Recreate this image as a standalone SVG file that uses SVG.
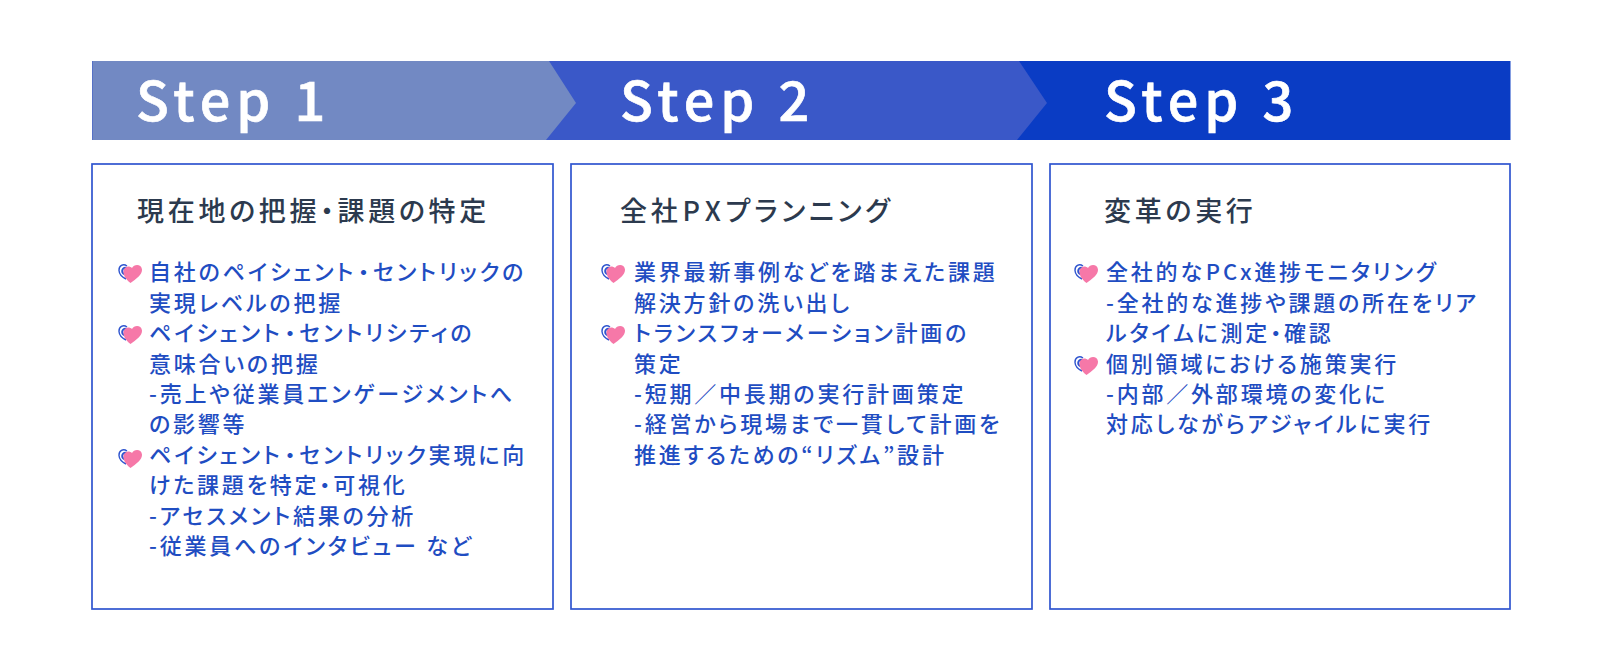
<svg xmlns="http://www.w3.org/2000/svg" width="1600" height="667" viewBox="0 0 1600 667">
<style>
text{font-family:"Noto Sans CJK JP","Noto Sans",sans-serif}
.s{font-size:54px;font-weight:500;fill:#fff;stroke:#fff;stroke-width:.7px;letter-spacing:6px}
.t{font-size:27px;font-weight:500;fill:#2c3a4e;letter-spacing:3.700px;font-feature-settings:"palt"}
.b{font-size:22px;font-weight:500;fill:#1f4dc2;letter-spacing:2.800px;font-feature-settings:"palt"}
.box{fill:#fff;stroke:#2f55cf;stroke-width:1.700}
</style>
<defs>
<g id="heart">
<path d="M9 4C5 1 0.800 4 1 8.500C1.200 12 4 15 8 17" fill="none" stroke="#2f55cf" stroke-width="1.400"/>
<circle cx="7.500" cy="9" r="3.300" fill="none" stroke="#2f55cf" stroke-width="2"/>
<path d="M12.500 21C8 17.500 5 13.500 5.500 9C6 4.500 11 3 14 6C16 1.800 23.500 1.800 24 7.500C24.400 12.500 18 17 12.500 21Z" fill="#f678a8"/>
</g>
</defs>
<rect width="1600" height="667" fill="#fff"/>
<g id="step3"><rect x="92.500" y="61" width="1418" height="79" fill="#0a3cc4"/><text class="s" x="1104" y="121">Step 3</text></g>
<g id="step2"><polygon points="92,61 1019,61 1047,103 1017,140 92,140" fill="#3a58c8"/><text class="s" x="620" y="121">Step 2</text></g>
<g id="step1"><polygon points="92.500,61 549,61 576,103 546,140 92.500,140" fill="#7289c3"/><text class="s" x="136" y="121">Step 1</text></g>
<g id="box1"><rect class="box" x="92" y="164" width="461" height="445"/>
<text class="t" x="137" y="221">現在地の把握・課題の特定</text>
<use href="#heart" x="118" y="262"/><use href="#heart" x="118" y="323"/><use href="#heart" x="118" y="447"/>
<text class="b" x="149" y="280">自社のペイシェント<tspan dx="2">・</tspan><tspan dx="1">セ</tspan>ントリックの</text>
<text class="b" x="149" y="311">実現レベルの把握</text>
<text class="b" x="149" y="341">ペイシェント<tspan dx="2">・</tspan><tspan dx="1">セ</tspan>ントリシティの</text>
<text class="b" x="149" y="372">意味合いの把握</text>
<text class="b" x="149" y="402">-売上や従業員エンゲージメントへ</text>
<text class="b" x="149" y="432">の影響等</text>
<text class="b" x="149" y="463">ペイシェント<tspan dx="2">・</tspan><tspan dx="1">セ</tspan>ントリック実現に向</text>
<text class="b" x="149" y="493">けた課題を特定・可視化</text>
<text class="b" x="149" y="524">-アセスメント結果の分析</text>
<text class="b" x="149" y="554">-従業員へのインタビュー など</text>
</g>
<g id="box2"><rect class="box" x="571" y="164" width="461" height="445"/>
<text class="t" x="620" y="221">全社<tspan dx="1">P</tspan><tspan dx="2">X</tspan><tspan dx="1">プ</tspan>ランニング</text>
<use href="#heart" x="601" y="262"/><use href="#heart" x="601" y="323"/>
<text class="b" x="634" y="280">業界最新事例などを踏まえた課題</text>
<text class="b" x="634" y="311">解決方針の洗い出し</text>
<text class="b" x="634" y="341">トランスフォーメーション計画の</text>
<text class="b" x="634" y="372">策定</text>
<text class="b" x="634" y="402">-短期／中長期の実行計画策定</text>
<text class="b" x="634" y="432">-経営から現場まで一貫して計画を</text>
<text class="b" x="634" y="463">推進するための“リズム”設計</text>
</g>
<g id="box3"><rect class="box" x="1050" y="164" width="460" height="445"/>
<text class="t" x="1104" y="221">変革の実行</text>
<use href="#heart" x="1074" y="262"/><use href="#heart" x="1074" y="354"/>
<text class="b" x="1106" y="280">全社的な<tspan dx="1">P</tspan>Cx進捗モニタリング</text>
<text class="b" x="1106" y="311">-全社的な進捗や課題の所在をリア</text>
<text class="b" x="1106" y="341">ルタイムに測定・確認</text>
<text class="b" x="1106" y="372">個別領域における施策実行</text>
<text class="b" x="1106" y="402">-内部／外部環境の変化に</text>
<text class="b" x="1106" y="432">対応しながらアジャイルに実行</text>
</g>
</svg>
